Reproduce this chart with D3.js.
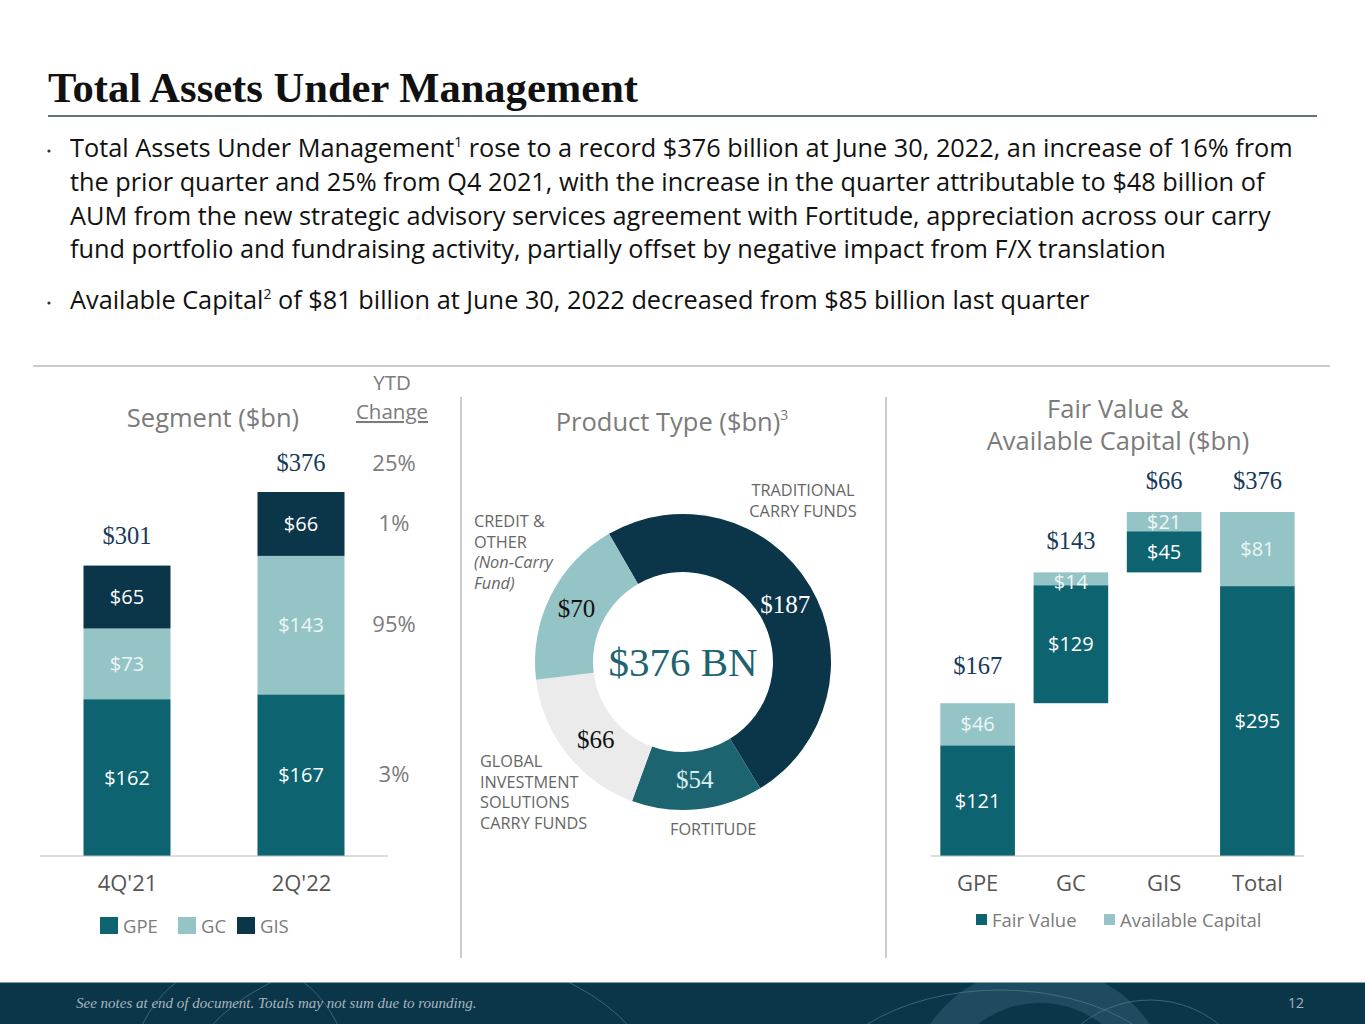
<!DOCTYPE html>
<html>
<head>
<meta charset="utf-8">
<script src="https://cdn.jsdelivr.net/npm/d3@7"></script>
<style>
  body { margin: 0; background: #fff; }
  svg text { font-family: "Open Sans", Lato, sans-serif; }
  .serif { font-family: "Liberation Serif", "DejaVu Serif", serif !important; }
</style>
</head>
<body>
<script>
// segment chart
var segQuarters = ["4Q'21", "2Q'22"];
var segGPE = [162, 167];
var segGC = [73, 143];
var segGIS = [65, 66];
var segTotals = [301, 376];
var segKeys = ["GPE", "GC", "GIS"];
var ytdChange = { total: "25%", GIS: "1%", GC: "95%", GPE: "3%" };

// product type donut
var productNames = ["TRADITIONAL CARRY FUNDS", "FORTITUDE", "GLOBAL INVESTMENT SOLUTIONS CARRY FUNDS", "CREDIT & OTHER"];
var productValues = [187, 54, 66, 70];
var productTotal = 376;

// fair value & available capital
var fvCats = ["GPE", "GC", "GIS", "Total"];
var fvFair = [121, 129, 45, 295];
var fvAvail = [46, 14, 21, 81];
var fvTotalLbl = [167, 143, 66, 376];

var navy = "#0b3549", teal = "#0d6370", lightTeal = "#95c4c6", grey = "#7b7b7b";

var svg = d3.select("body").append("svg").attr("width", 1365).attr("height", 1024);

// ---- header ----
svg.append("text").attr("class", "serif").attr("x", 48).attr("y", 102)
  .attr("font-size", 43).attr("font-weight", "bold").attr("fill", "#111")
  .attr("textLength", 590).attr("lengthAdjust", "spacingAndGlyphs")
  .text("Total Assets Under Management");
svg.append("line").attr("x1", 48).attr("x2", 1317).attr("y1", 116).attr("y2", 116)
  .attr("stroke", "#2b4a5a").attr("stroke-width", 1.5);

var bullets = [
  [["Total Assets Under Management", ""], ["1", "sup"], [" rose to a record $376 billion at June 30, 2022, an increase of 16% from", "after"]],
  [["the prior quarter and 25% from Q4 2021, with the increase in the quarter attributable to $48 billion of", ""]],
  [["AUM from the new strategic advisory services agreement with Fortitude, appreciation across our carry", ""]],
  [["fund portfolio and fundraising activity, partially offset by negative impact from F/X translation", ""]],
  [["Available Capital", ""], ["2", "sup"], [" of $81 billion at June 30, 2022 decreased from $85 billion last quarter", "after"]]
];
var bulletY = [157, 191, 225, 258, 309];
bullets.forEach(function (parts, i) {
  var t = svg.append("text").attr("x", 70).attr("y", bulletY[i]).attr("font-size", 25.3).attr("fill", "#111");
  parts.forEach(function (p) {
    var s = t.append("tspan").text(p[0]);
    if (p[1] == "sup") s.attr("font-size", 14).attr("dy", -10);
    if (p[1] == "after") s.attr("dy", 10);
  });
});
[0, 4].forEach(function (i) {
  svg.append("circle").attr("cx", 49).attr("cy", bulletY[i] - 6).attr("r", 1.6).attr("fill", "#333");
});

svg.append("line").attr("x1", 33).attr("x2", 1330).attr("y1", 366).attr("y2", 366)
  .attr("stroke", "#999").attr("stroke-width", 1.2);
[461, 886].forEach(function (x) {
  svg.append("line").attr("x1", x).attr("x2", x).attr("y1", 397).attr("y2", 958)
    .attr("stroke", "#aaa").attr("stroke-width", 1.2);
});

// ---- segment stacked bars ----
var segData = segQuarters.map(function (q, i) {
  return { q: q, GPE: segGPE[i], GC: segGC[i], GIS: segGIS[i], total: segGPE[i] + segGC[i] + segGIS[i] };
});
var sy = d3.scaleLinear().domain([0, 376]).range([856, 492]);
var segColor = d3.scaleOrdinal().domain(segKeys).range([teal, lightTeal, navy]);
var stack = d3.stack().keys(segKeys)(segData);
var segX = d3.scalePoint().domain(segQuarters).range([127, 301]);
var bw = 87;

var gSeg = svg.append("g");
stack.forEach(function (layer) {
  gSeg.selectAll(null).data(layer).join("rect")
    .attr("x", function (d) { return segX(d.data.q) - bw / 2; })
    .attr("y", function (d) { return sy(d[1]); })
    .attr("width", bw)
    .attr("height", function (d) { return sy(d[0]) - sy(d[1]); })
    .attr("fill", segColor(layer.key));
  gSeg.selectAll(null).data(layer).join("text")
    .attr("x", function (d) { return segX(d.data.q); })
    .attr("y", function (d) { return (sy(d[0]) + sy(d[1])) / 2 + 7; })
    .attr("text-anchor", "middle").attr("font-size", 20)
    .attr("fill", layer.key == "GC" ? "#eef6f6" : "#fff")
    .text(function (d) { return "$" + d.data[layer.key]; });
});
gSeg.selectAll(null).data(segData).join("text").attr("class", "serif")
  .attr("x", function (d) { return segX(d.q); })
  .attr("y", function (d, i) { return sy(segTotals[i]) - 21; })
  .attr("text-anchor", "middle").attr("font-size", 24.5).attr("fill", "#163a5a")
  .text(function (d, i) { return "$" + segTotals[i]; });

var segAxis = d3.axisBottom(segX).tickSize(0).tickPadding(19);
var ga = svg.append("g").attr("transform", "translate(0,856)").call(segAxis);
ga.select(".domain").remove();
ga.append("line").attr("x1", 40).attr("x2", 388).attr("stroke", "#bbb").attr("stroke-width", 1.2);
ga.selectAll(".tick text").attr("font-size", 22).attr("fill", "#555").attr("font-family", "'Open Sans', sans-serif");

svg.append("text").attr("x", 213).attr("y", 427).attr("text-anchor", "middle")
  .attr("font-size", 25.5).attr("fill", grey).text("Segment ($bn)");
svg.append("text").attr("x", 392).attr("y", 390).attr("text-anchor", "middle")
  .attr("font-size", 20.5).attr("fill", grey).text("YTD");
svg.append("text").attr("x", 392).attr("y", 419).attr("text-anchor", "middle")
  .attr("font-size", 20.5).attr("fill", grey).attr("text-decoration", "underline").text("Change");

// ytd values placed at the middle of the 2Q'22 segments
var last = segData[1];
var ytdY = {
  total: sy(last.total) - 28,
  GIS: (sy(last.total) + sy(last.GPE + last.GC)) / 2,
  GC: (sy(last.GPE + last.GC) + sy(last.GPE)) / 2,
  GPE: (sy(last.GPE) + sy(0)) / 2
};
Object.keys(ytdChange).forEach(function (k) {
  svg.append("text").attr("x", 394).attr("y", ytdY[k] + 7).attr("text-anchor", "middle")
    .attr("font-size", 22).attr("fill", grey).text(ytdChange[k]);
});

var segLeg = svg.append("g").attr("transform", "translate(100,926)");
var legX = [0, 78, 137];
segKeys.forEach(function (k, i) {
  segLeg.append("rect").attr("x", legX[i]).attr("y", -9).attr("width", 18).attr("height", 17).attr("fill", segColor(k));
  segLeg.append("text").attr("x", legX[i] + 23).attr("y", 7).attr("font-size", 18.5).attr("fill", grey).text(k);
});

// ---- donut ----
svg.append("text").attr("x", 672).attr("y", 431).attr("text-anchor", "middle")
  .attr("font-size", 25.5).attr("fill", grey)
  .text("Product Type ($bn)").append("tspan").attr("font-size", 14).attr("dy", -11).text("3");

var cx = 683, cy = 662;
var pieColors = [navy, "#1c6470", "#ebebeb", lightTeal];
var labelColors = ["#fff", "#d8eeee", "#111", "#111"];
var startA = -30 * Math.PI / 180;
var pie = d3.pie().sort(null).startAngle(startA).endAngle(startA + 2 * Math.PI)(productValues);
var arc = d3.arc().innerRadius(90).outerRadius(148);
var lblArc = d3.arc().innerRadius(119).outerRadius(119);
var gD = svg.append("g").attr("transform", "translate(" + cx + "," + cy + ")");
gD.selectAll("path").data(pie).join("path").attr("d", arc)
  .attr("fill", function (d, i) { return pieColors[i]; });
var lblShift = [[0, 4], [0, 0], [6, 4], [0, 0]];
gD.selectAll("text.v").data(pie).join("text").attr("class", "serif")
  .attr("x", function (d, i) { return lblArc.centroid(d)[0] + lblShift[i][0]; })
  .attr("y", function (d, i) { return lblArc.centroid(d)[1] + lblShift[i][1] + 8; })
  .attr("text-anchor", "middle").attr("font-size", 25)
  .attr("fill", function (d, i) { return labelColors[i]; })
  .text(function (d) { return "$" + d.data; });
gD.append("text").attr("class", "serif").attr("y", 14).attr("text-anchor", "middle")
  .attr("font-size", 41).attr("fill", "#1c6470").text("$" + productTotal + " BN");

var outer = [
  { lines: ["TRADITIONAL", "CARRY FUNDS"], x: 803, y: 496, anchor: "middle" },
  { lines: ["FORTITUDE"], x: 670, y: 835, anchor: "start" },
  { lines: ["GLOBAL", "INVESTMENT", "SOLUTIONS", "CARRY FUNDS"], x: 480, y: 767, anchor: "start" },
  { lines: ["CREDIT &", "OTHER", "(Non-Carry", "Fund)"], x: 474, y: 527, anchor: "start" }
];
outer.forEach(function (o, i) {
  var t = svg.append("text").attr("font-size", 16.3).attr("fill", "#666").attr("text-anchor", o.anchor);
  o.lines.forEach(function (l, j) {
    t.append("tspan").attr("x", o.x).attr("y", o.y + j * 20.5).text(l)
      .attr("font-style", i == 3 && j > 1 ? "italic" : null);
  });
});

// ---- fair value waterfall ----
svg.append("text").attr("x", 1118).attr("y", 418).attr("text-anchor", "middle")
  .attr("font-size", 25.5).attr("fill", grey).text("Fair Value &");
svg.append("text").attr("x", 1118).attr("y", 450).attr("text-anchor", "middle")
  .attr("font-size", 25.5).attr("fill", grey).text("Available Capital ($bn)");

var fvTot = fvFair.map(function (v, i) { return v + fvAvail[i]; });
var fvBase = [];
var run = 0;
fvCats.forEach(function (c, i) {
  if (c == "Total") fvBase.push(0);
  else { fvBase.push(run); run += fvTot[i]; }
});
var fx = d3.scaleBand().domain(fvCats).range([931, 1304]).paddingInner(0.2).paddingOuter(0.1);
var fy = d3.scaleLinear().domain([0, 376]).range([856, 512]);
var gF = svg.append("g");
var fvRows = fvCats.map(function (c, i) {
  return { c: c, base: fvBase[i], fair: fvFair[i], avail: fvAvail[i], tot: fvTot[i] };
});
gF.selectAll("rect.f").data(fvRows).join("rect")
  .attr("x", function (d) { return fx(d.c); }).attr("width", fx.bandwidth())
  .attr("y", function (d) { return fy(d.base + d.fair); })
  .attr("height", function (d) { return fy(d.base) - fy(d.base + d.fair); })
  .attr("fill", teal);
gF.selectAll("rect.a").data(fvRows).join("rect")
  .attr("x", function (d) { return fx(d.c); }).attr("width", fx.bandwidth())
  .attr("y", function (d) { return fy(d.base + d.tot); })
  .attr("height", function (d) { return fy(d.base + d.fair) - fy(d.base + d.tot); })
  .attr("fill", lightTeal);
gF.selectAll("text.f").data(fvRows).join("text")
  .attr("x", function (d) { return fx(d.c) + fx.bandwidth() / 2; })
  .attr("y", function (d) { return (fy(d.base) + fy(d.base + d.fair)) / 2 + 7; })
  .attr("text-anchor", "middle").attr("font-size", 20).attr("fill", "#fff")
  .text(function (d) { return "$" + d.fair; });
gF.selectAll("text.a").data(fvRows).join("text")
  .attr("x", function (d) { return fx(d.c) + fx.bandwidth() / 2; })
  .attr("y", function (d) { return Math.max((fy(d.base + d.fair) + fy(d.base + d.tot)) / 2 + 7, fy(d.base + d.tot) + 17); })
  .attr("text-anchor", "middle").attr("font-size", 20).attr("fill", "#eef6f6")
  .text(function (d) { return "$" + d.avail; });
gF.selectAll("text.t").data(fvRows).join("text").attr("class", "serif")
  .attr("x", function (d) { return fx(d.c) + fx.bandwidth() / 2; })
  .attr("y", function (d, i) { return fy(d.base + d.tot) - (i == 0 ? 29 : 23); })
  .attr("text-anchor", "middle").attr("font-size", 24.5).attr("fill", "#163a5a")
  .text(function (d, i) { return "$" + fvTotalLbl[i]; });

var fAxis = d3.axisBottom(fx).tickSize(0).tickPadding(19);
var gfa = svg.append("g").attr("transform", "translate(0,856)").call(fAxis);
gfa.select(".domain").remove();
gfa.append("line").attr("x1", 931).attr("x2", 1304).attr("stroke", "#bbb").attr("stroke-width", 1.2);
gfa.selectAll(".tick text").attr("font-size", 22).attr("fill", "#555").attr("font-family", "'Open Sans', sans-serif");

var fLeg = svg.append("g").attr("transform", "translate(976,920)");
[["Fair Value", teal, 0], ["Available Capital", lightTeal, 128]].forEach(function (l) {
  fLeg.append("rect").attr("x", l[2]).attr("y", -6).attr("width", 11).attr("height", 11).attr("fill", l[1]);
  fLeg.append("text").attr("x", l[2] + 16).attr("y", 7).attr("font-size", 18.5).attr("fill", grey).text(l[0]);
});

// ---- footer ----
svg.append("clipPath").attr("id", "footClip").append("rect")
  .attr("x", 0).attr("y", 982).attr("width", 1365).attr("height", 42);
var foot = svg.append("g").attr("clip-path", "url(#footClip)");
foot.append("rect").attr("x", 0).attr("y", 982).attr("width", 1365).attr("height", 42).attr("fill", "#0b3549");
foot.append("ellipse").attr("cx", 1040).attr("cy", 1085).attr("rx", 110).attr("ry", 100)
  .attr("fill", "none").attr("stroke", "#2c5a6e").attr("stroke-opacity", 0.6).attr("stroke-width", 36);
var deco = foot.append("g").attr("fill", "none").attr("stroke", "#5f8a9a").attr("stroke-opacity", 0.55);
[[240, 1080, 110, 120], [1000, 1110, 190, 120], [1150, 1110, 110, 110], [420, 1100, 240, 150]].forEach(function (e) {
  deco.append("ellipse").attr("cx", e[0]).attr("cy", e[1]).attr("rx", e[2]).attr("ry", e[3]);
});
foot.append("line").attr("x1", 0).attr("x2", 1365).attr("y1", 982).attr("y2", 982).attr("stroke", "#9fcbd3").attr("stroke-width", 1.5);
foot.append("text").attr("class", "serif").attr("x", 76).attr("y", 1008)
  .attr("font-size", 15).attr("font-style", "italic").attr("fill", "#a8b6be")
  .text("See notes at end of document. Totals may not sum due to rounding.");
foot.append("text").attr("x", 1296).attr("y", 1008).attr("text-anchor", "middle")
  .attr("font-size", 14).attr("fill", "#a8b6be").text("12");
</script>
</body>
</html>
